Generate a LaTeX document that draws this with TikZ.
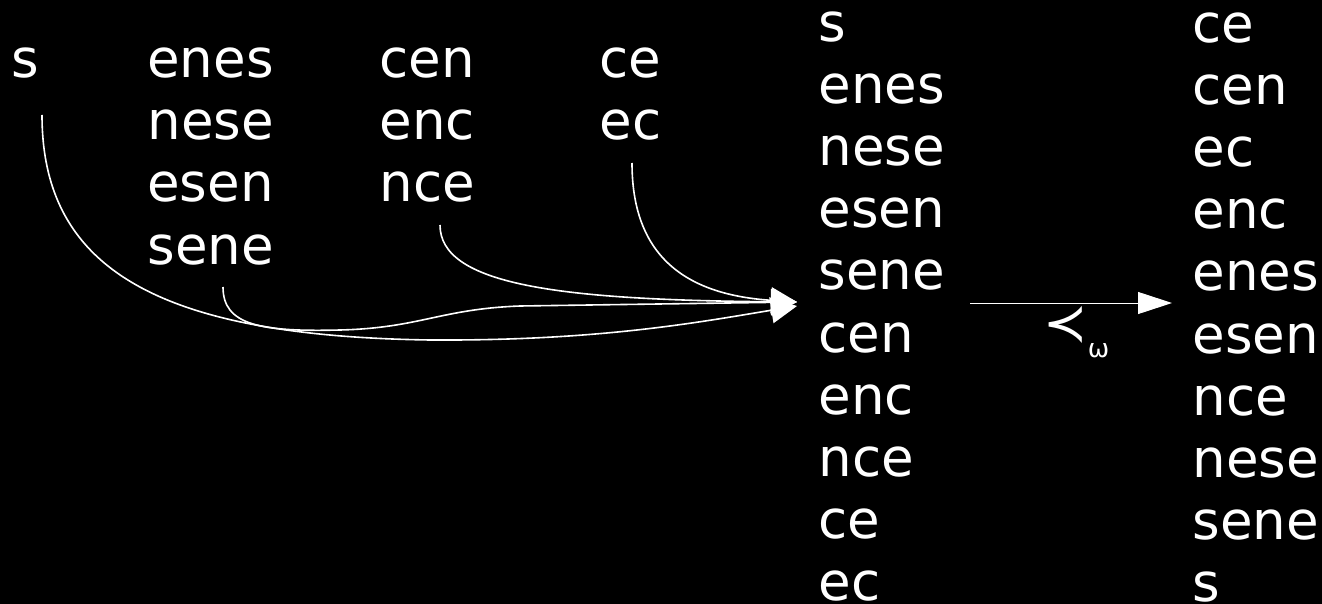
\documentclass[tikz,border=0pt]{standalone}
\usepackage{fontspec}
\newfontfamily\wordfont{DejaVu Sans}
\usetikzlibrary{arrows.meta}

\begin{document}
\begin{tikzpicture}[x=0.5pt, y=-0.5pt,
    word/.style={anchor=base west, inner sep=0pt, text=white, text depth=0pt,
        font=\wordfont\fontsize{26.5}{31}\selectfont},
    link/.style={draw=white, line width=0.8pt, -{Triangle[length=13pt, width=13pt]}},
    order/.style={draw=white, line width=0.5pt, -{Triangle[length=17pt, width=11pt]}}
]
    \fill[black] (0,0) rectangle (1322,604);
    \useasboundingbox (0,0) rectangle (1322,604);
    % Groups on the left
    \node[word] (a1) at (11,78) {s};
    \foreach \w [count=\i] in {enes, nese, esen, sene} {
        \node[word] (b\i) at (147, {78+62*(\i-1)}) {\w};
    }
    \foreach \w [count=\i] in {cen, enc, nce} {
        \node[word] (c\i) at (379, {78+62*(\i-1)}) {\w};
    }
    \foreach \w [count=\i] in {ce, ec} {
        \node[word] (d\i) at (599, {78+62*(\i-1)}) {\w};
    }
    % Joined list and sorted list
    \foreach \w [count=\i] in {s, enes, nese, esen, sene, cen, enc, nce, ce, ec} {
        \node[word] (m\i) at (818, {42+62*(\i-1)}) {\w};
    }
    \foreach \w [count=\i] in {ce, cen, ec, enc, enes, esen, nce, nese, sene, s} {
        \node[word] (r\i) at (1192, {43+62*(\i-1)}) {\w};
    }
    % Ends of the connectors
    \coordinate (fa) at (42,115);
    \coordinate (fb) at (223,287);
    \coordinate (fc) at (440,225);
    \coordinate (fd) at (632,163);
    \coordinate (join) at (797,302);
    \coordinate (low) at (797,306);
    \coordinate (o1) at (970,303);
    \coordinate (o2) at (1172,303);
    % Into the joined list
    \draw[link] (fa) .. controls (42,270) and (160,336) .. (430,340)
        .. controls (600,341) and (700,322) .. (low);
    \draw[link] (fb) .. controls (223,325) and (260,332) .. (340,330)
        .. controls (420,328) and (440,309) .. (520,306) -- (join);
    \draw[link] (fc) .. controls (440,285) and (560,300) .. (join);
    \draw[link] (fd) .. controls (632,260) and (690,295) .. (join);
    % Sorting
    \draw[order] (o1) -- (o2);
    \node[word] (lbl) at (1043,342) {≺\raisebox{-7.5pt}{\fontsize{12.8}{14}\selectfont ω}};
\end{tikzpicture}
\end{document}
